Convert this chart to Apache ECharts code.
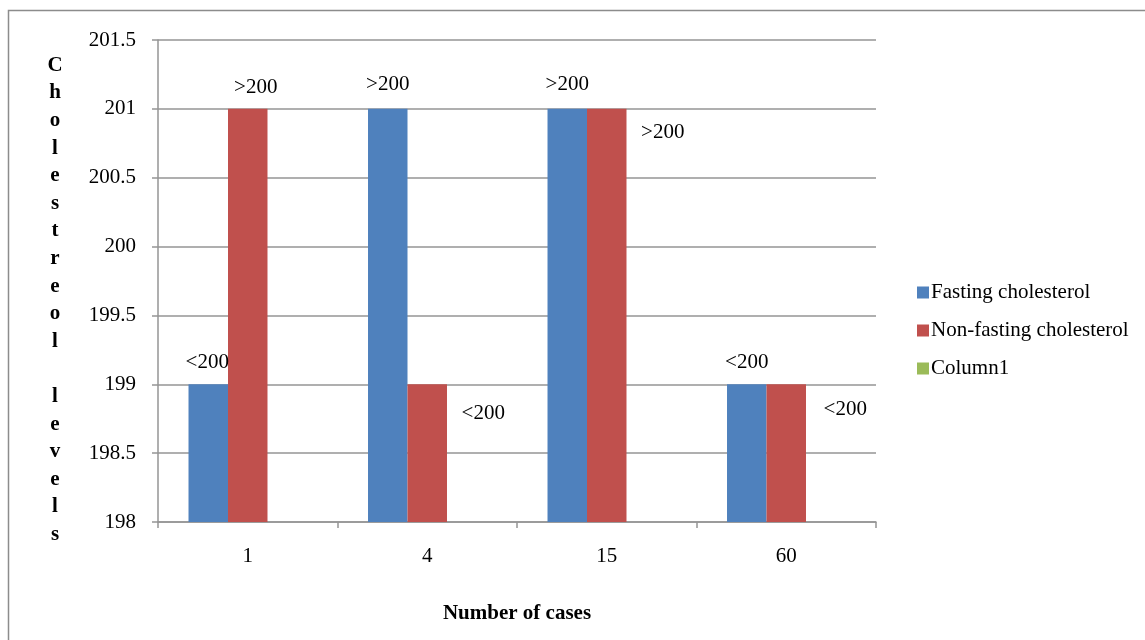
<!DOCTYPE html>
<html>
<head>
<meta charset="utf-8">
<title>Cholesterol levels by number of cases</title>
<script src="https://cdn.jsdelivr.net/npm/echarts@6/dist/echarts.min.js"></script>
<style>
  html, body { margin: 0; padding: 0; background: #ffffff; }
  #chart { width: 1145px; height: 640px; }
</style>
</head>
<body>
<div id="chart"></div>
<script>
// Data
const categories = ['1', '4', '15', '60'];
const fasting = [199, 201, 201, 199];
const nonFasting = [201, 199, 201, 199];
const column1 = [null, null, null, null];
const yTicks = { min: 198, max: 201.5, step: 0.5 };

// Label placement for each bar (dx, dy from the top-centre of the bar)
const fastingLabelOffsets = [[-1, -22], [0, -24], [0, -24], [0, -22]];
const nonFastingLabelOffsets = [[8, -21], [56, 29], [56, 24], [59, 25]];

const FONT = '"Liberation Serif", "Times New Roman", serif';
const GRID_GRAY = '#959595';

function labelText(v) {
  return v > 200 ? '>200' : '<200';
}

function withLabels(values, offsets) {
  return values.map((v, i) => ({
    value: v,
    label: {
      show: true,
      position: 'top',
      distance: 0,
      align: 'center',
      verticalAlign: 'middle',
      offset: offsets[i],
      formatter: () => labelText(v),
      color: '#000',
      fontFamily: FONT,
      fontSize: 21
    }
  }));
}

// Axis title written one letter per line
const yTitle = 'Cholestreol levels'.split('').join('\n');

const chart = echarts.init(document.getElementById('chart'), null, { renderer: 'canvas' });

chart.setOption({
  backgroundColor: '#ffffff',
  animation: false,
  textStyle: { fontFamily: FONT, color: '#000' },
  grid: { left: 158, right: 269, top: 40, bottom: 118, containLabel: false },
  legend: {
    orient: 'vertical',
    left: 917,
    top: 282,
    padding: 0,
    itemWidth: 12,
    itemHeight: 12,
    itemGap: 17,
    icon: 'rect',
    textStyle: { fontFamily: FONT, fontSize: 21, color: '#000', padding: [0, 0, 0, -3], lineHeight: 21 },
    data: ['Fasting cholesterol', 'Non-fasting cholesterol', 'Column1']
  },
  xAxis: {
    type: 'category',
    data: categories,
    name: 'Number of cases',
    nameLocation: 'middle',
    nameGap: 81,
    nameTextStyle: { fontFamily: FONT, fontSize: 21, fontWeight: 'bold', color: '#000' },
    axisLine: { lineStyle: { color: GRID_GRAY, width: 1.5 } },
    axisTick: { show: true, length: 6, alignWithLabel: false, lineStyle: { color: GRID_GRAY, width: 1.5 } },
    axisLabel: { margin: 24, fontFamily: FONT, fontSize: 21, color: '#000' },
    splitLine: { show: false }
  },
  yAxis: {
    type: 'value',
    min: yTicks.min,
    max: yTicks.max,
    interval: yTicks.step,
    axisLine: { show: true, lineStyle: { color: GRID_GRAY, width: 1.5 } },
    axisTick: { show: true, length: 6, lineStyle: { color: GRID_GRAY, width: 1.5 } },
    axisLabel: { margin: 22, fontFamily: FONT, fontSize: 21, color: '#000' },
    splitLine: { show: true, lineStyle: { color: GRID_GRAY, width: 1.5 } }
  },
  series: [
    {
      name: 'Fasting cholesterol',
      type: 'bar',
      barGap: '0%',
      barCategoryGap: '34%',
      itemStyle: { color: '#4F81BD' },
      data: withLabels(fasting, fastingLabelOffsets)
    },
    {
      name: 'Non-fasting cholesterol',
      type: 'bar',
      barGap: '0%',
      barCategoryGap: '34%',
      itemStyle: { color: '#C0504D' },
      data: withLabels(nonFasting, nonFastingLabelOffsets)
    },
    {
      name: 'Column1',
      type: 'bar',
      barGap: '0%',
      barCategoryGap: '34%',
      itemStyle: { color: '#9BBB59' },
      data: column1
    }
  ],
  graphic: [
    {
      type: 'rect',
      silent: true,
      shape: { x: 8.5, y: 10.5, width: 1200, height: 700 },
      style: { fill: 'none', stroke: '#8c8c8c', lineWidth: 1.5 }
    },
    {
      type: 'text',
      silent: true,
      x: 55,
      y: 300,
      style: {
        text: yTitle,
        fontFamily: FONT,
        fontSize: 21,
        fontWeight: 'bold',
        lineHeight: 27.6,
        fill: '#000',
        align: 'center',
        verticalAlign: 'middle'
      }
    }
  ]
});
</script>
</body>
</html>
